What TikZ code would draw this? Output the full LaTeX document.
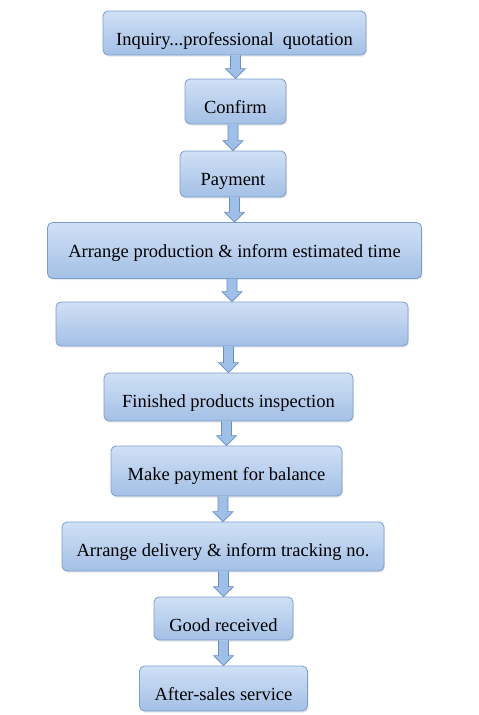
\documentclass[tikz,border=0pt]{standalone}
\usepackage{fontspec}
\setmainfont{Liberation Serif}
\usetikzlibrary{calc,shadows}
\definecolor{BoxTop}{RGB}{208,224,245}
\definecolor{BoxBottom}{RGB}{163,192,230}
\definecolor{BoxLine}{RGB}{122,158,204}
\definecolor{ArrowFill}{RGB}{158,191,231}
\definecolor{ArrowLine}{RGB}{104,142,194}

% block arrow from the bottom of one stage to the top of the next
\newcommand\flowstep[2]{%
  \fill[ArrowFill] let \p1=(#1.south), \p2=(#2.north) in
    (\x2-5pt,\y1) -- (\x2-5pt,\y2+10pt) -- (\x2-10pt,\y2+10pt) -- (\x2,\y2)
    -- (\x2+10pt,\y2+10pt) -- (\x2+5pt,\y2+10pt) -- (\x2+5pt,\y1) -- cycle;
  \draw[ArrowLine,line width=0.7pt,line join=miter] let \p1=(#1.south), \p2=(#2.north) in
    (\x2-5pt,\y1) -- (\x2-5pt,\y2+10pt) -- (\x2-10pt,\y2+10pt) -- (\x2,\y2)
    -- (\x2+10pt,\y2+10pt) -- (\x2+5pt,\y2+10pt) -- (\x2+5pt,\y1);}

\begin{document}
\begin{tikzpicture}[x=1pt,y=-1pt,
    stage/.style={
      rounded corners=5pt,
      draw=BoxLine,
      line width=0.8pt,
      top color=BoxTop,
      bottom color=BoxBottom,
      drop shadow={opacity=0.18,shadow xshift=1pt,shadow yshift=-1.5pt},
      font=\fontsize{18.5}{22}\selectfont,
      text depth=0pt,
      inner sep=0pt
    }]
    \useasboundingbox (0,0) rectangle (479,715);

    % text sits at the same depth below the top of every box
    \node[stage,minimum width=263pt,minimum height=44pt,text height=25pt] (inquiry) at (234.5,33) {Inquiry...professional\ \ quotation};
    \node[stage,minimum width=101pt,minimum height=45pt,text height=24pt] (confirm) at (235.5,101.5) {Confirm};
    \node[stage,minimum width=106pt,minimum height=46pt,text height=23pt] (payment) at (233,174) {Payment};
    \node[stage,minimum width=374pt,minimum height=56pt,text height=13pt] (production) at (234.5,250.5) {Arrange production \& inform estimated time};
    \node[stage,minimum width=352pt,minimum height=44pt] (hidden) at (232,324) {};
    \node[stage,minimum width=249pt,minimum height=48pt,text height=21pt] (inspection) at (228.5,397) {Finished products inspection};
    \node[stage,minimum width=231pt,minimum height=50pt,text height=19pt] (balance) at (226.5,471) {Make payment for balance};
    \node[stage,minimum width=322pt,minimum height=49pt,text height=20pt] (delivery) at (223,546.5) {Arrange delivery \& inform tracking no.};
    \node[stage,minimum width=139pt,minimum height=43pt,text height=25pt] (received) at (223.5,618.5) {Good received};
    \node[stage,minimum width=168pt,minimum height=45pt,text height=23pt] (service) at (223.5,688.5) {After-sales service};

    \flowstep{inquiry}{confirm}
    \flowstep{confirm}{payment}
    \flowstep{payment}{production}
    \flowstep{production}{hidden}
    \flowstep{hidden}{inspection}
    \flowstep{inspection}{balance}
    \flowstep{balance}{delivery}
    \flowstep{delivery}{received}
    \flowstep{received}{service}
\end{tikzpicture}
\end{document}
